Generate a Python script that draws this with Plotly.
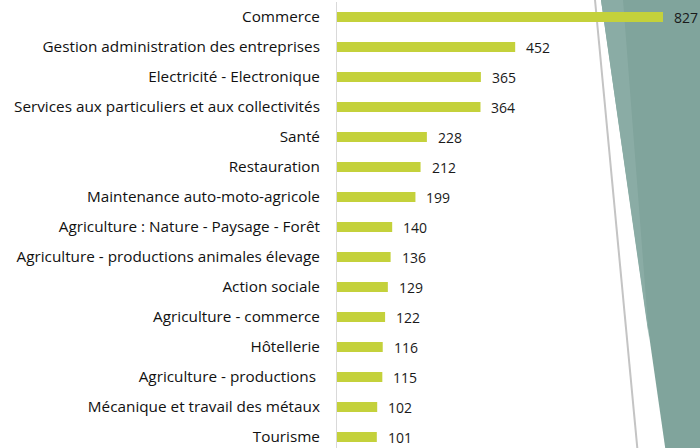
import plotly.graph_objects as go

categories = [
    "Commerce",
    "Gestion administration des entreprises",
    "Electricité - Electronique",
    "Services aux particuliers et aux collectivités",
    "Santé",
    "Restauration",
    "Maintenance auto-moto-agricole",
    "Agriculture : Nature - Paysage - Forêt",
    "Agriculture - productions animales élevage",
    "Action sociale",
    "Agriculture - commerce",
    "Hôtellerie",
    "Agriculture - productions\u00a0",
    "Mécanique et travail des métaux",
    "Tourisme",
]
values = [827, 452, 365, 364, 228, 212, 199, 140, 136, 129, 122, 116, 115, 102, 101]

BAR_COLOR = "#c4d13b"
FONT = "Open Sans"

W, H = 700, 448
L, R, T, B = 337, 0, 2, 0
PW, PH = W - L - R, H - T - B


def px(x):
    return (x - L) / PW


def py(y):
    return (H - B - y) / PH


fig = go.Figure(
    go.Bar(
        x=values,
        y=categories,
        orientation="h",
        marker=dict(color=BAR_COLOR, line=dict(width=0)),
        cliponaxis=False,
        width=0.33,
        hoverinfo="x+y",
    )
)

annotations = [
    dict(
        x=v, y=c, xref="x", yref="y",
        text=str(v), showarrow=False,
        xanchor="left", yanchor="middle", xshift=9,
        font=dict(family=FONT, size=14, color="#1a1a1a"),
    )
    for c, v in zip(categories, values)
]

shapes = [
    dict(
        type="path",
        xref="paper", yref="paper",
        path=f"M {px(601)},{py(0)} L {px(705)},{py(0)} L {px(705)},{py(450)} L {px(665.5)},{py(450)} Z",
        fillcolor="#80a49c", line=dict(width=0), layer="below",
    ),
    dict(
        type="path",
        xref="paper", yref="paper",
        path=f"M {px(601)},{py(0)} L {px(623)},{py(0)} L {px(649)},{py(338)} Z",
        fillcolor="#8aaca5", line=dict(width=0), layer="below",
    ),
    dict(
        type="line",
        xref="paper", yref="paper",
        x0=px(595), y0=py(0), x1=px(637.5), y1=py(450),
        line=dict(color="#c4c4c4", width=2), layer="below",
    ),
]

fig.update_layout(
    width=W, height=H,
    margin=dict(l=L, r=R, t=T, b=B, pad=0, autoexpand=False),
    paper_bgcolor="white",
    plot_bgcolor="rgba(0,0,0,0)",
    showlegend=False,
    shapes=shapes,
    annotations=annotations,
    xaxis=dict(range=[0, PW / (326 / 827)], visible=False, fixedrange=True,
               automargin=False),
    yaxis=dict(
        range=[-0.5 + PH / 30.0, -0.5],
        automargin=False,
        showline=True, linecolor="#d9d9d9", linewidth=1,
        showgrid=False, zeroline=False, ticks="",
        ticklabelstandoff=13,
        tickfont=dict(family=FONT, size=15.3, color="#111111"),
    ),
)

fig.write_html(
    "out.html",
    config={"displayModeBar": False},
    post_script="document.body.style.margin='0';document.body.style.overflow='hidden';",
)
